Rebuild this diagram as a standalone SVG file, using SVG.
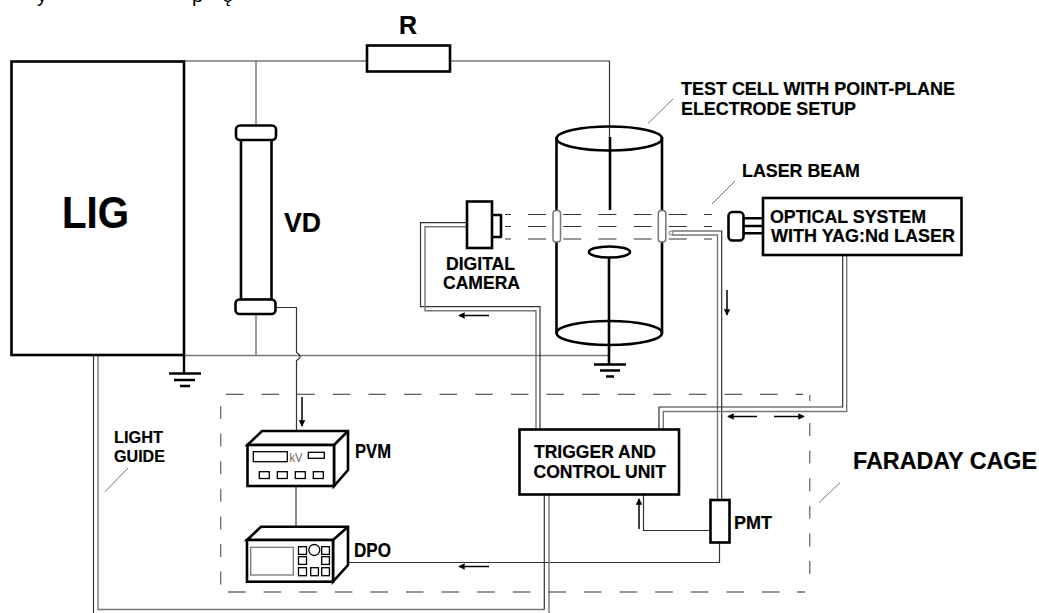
<svg xmlns="http://www.w3.org/2000/svg" width="1039" height="613" viewBox="0 0 1039 613">
<style>
text{font-family:"Liberation Sans",Arial,sans-serif;font-weight:bold;fill:#000;stroke:#000;stroke-width:.2}
.b{fill:#fff;stroke:#000;stroke-width:2.6}
.t{fill:#fff;stroke:#000;stroke-width:1.3}
.n{fill:none;stroke:#000;stroke-width:2.6;stroke-linejoin:round}
.w{fill:none;stroke:#333;stroke-width:1.2}
.g{fill:none;stroke:#777;stroke-width:1.4}
.p{fill:none;stroke:#777;stroke-width:1}
.d{fill:none;stroke:#333;stroke-width:1.1}
.a{fill:none;stroke:#000;stroke-width:1.5;marker-end:url(#ah)}
.r{stroke:#000;stroke-width:2.4;fill:none}
.f{font-weight:normal;stroke:none}
</style>
<defs>
<marker id="ah" viewBox="0 0 8 8" refX="7" refY="4" markerWidth="6.500" markerHeight="6.500" markerUnits="userSpaceOnUse" orient="auto"><path d="M0 0L8 4L0 8Z" fill="#000"/></marker>
</defs>
<g id="connectors">
<path class="w" d="M184 61H367M450 61H609.500V138"/>
<path class="g" d="M256 61V125M256 314V355"/>
<path class="g" d="M184 355.500H609"/>
<path class="w" d="M276 307.500H296.500V352.500Q303.500 356.500 296.500 360.500V430"/>
<path class="w" d="M296 486V526"/>
<path class="w" d="M349 562.500H719.500V543"/>
<path class="w" d="M710 530.500H643.500V495"/>
<path class="w" d="M467 222.700H420.500V306.700H540V429"/>
<path class="g" d="M467 226.700H425V310.700H536V429"/>
<path class="w" d="M672 231H721.700V500"/>
<path class="g" d="M672 235H717.500V500"/>
<circle class="p" cx="671" cy="233" r="2"/>
<path class="w" d="M659 429V407H842.700V255"/>
<path class="g" d="M663.300 429V411.500H846.700V255"/>
<path class="w" d="M93.500 355V613"/>
<path class="g" d="M98 355V609.500H544.300"/>
<path class="w" d="M544.300 609.500V495"/>
<path class="g" d="M549 495V613"/>
<path class="a" d="M489 315.500H459"/>
<path class="a" d="M727 290V315"/>
<path class="a" d="M757 416.500H728"/>
<path class="a" d="M774 416.500H804"/>
<path class="a" d="M302 397V426"/>
<path class="a" d="M639 529V499"/>
<path class="a" d="M489 566.500H459"/>
<path class="p" d="M128 468L105 491.700M840 482.700L819 502.700M735 181L712 204M673 99L648 123.500"/>
</g>
<g id="faraday-cage">
<path class="d" stroke-dasharray="17.600 18" d="M226 394.300H796"/>
<path class="d" d="M796 394.300H803"/>
<path class="d" stroke-dasharray="17.600 18" d="M228 592H797"/>
<path class="d" d="M797 592H805"/>
<path class="g" stroke-dasharray="13 14.600" d="M220.700 406V585"/>
<path class="g" stroke-dasharray="13 14.600" d="M809.700 423V574"/>
<path class="g" d="M809.700 395V401"/>
</g>
<g id="laser-beam">
<path class="d" stroke-dasharray="18 17.200" d="M528 214.500H712"/>
<path class="d" stroke-dasharray="18 17.200" d="M528 226.500H712"/>
<path class="d" stroke-dasharray="18 17.200" d="M528 239H712"/>
<path class="d" d="M505 214.500H511M505 226.500H511M505 239H511"/>
</g>
<g id="lig"><rect class="b" x="11.500" y="61.500" width="172.500" height="293.500"/>
<text x="62" y="228" font-size="44" textLength="67" lengthAdjust="spacingAndGlyphs">LIG</text></g>
<g id="ground-lig"><path class="r" d="M184 355V373"/><path class="r" d="M169 373.500H201M174 380H195M180 386H190"/></g>
<g id="resistor"><rect class="b" x="367" y="45.500" width="83" height="26"/>
<text x="399" y="34" font-size="26" textLength="18" lengthAdjust="spacingAndGlyphs">R</text></g>
<g id="vd">
<rect class="b" x="241" y="139" width="30.500" height="161"/>
<rect class="b" x="236" y="125.500" width="40" height="14.500" rx="4"/>
<rect class="b" x="235.500" y="299.500" width="40" height="14.500" rx="4"/>
<text x="284" y="232" font-size="27" textLength="37" lengthAdjust="spacingAndGlyphs">VD</text></g>
<g id="test-cell">
<path class="n" d="M556.500 137V333M662 137V333"/>
<ellipse class="n" cx="609.300" cy="138.500" rx="52.700" ry="12"/>
<path class="n" d="M556.500 333A52.700 12 0 0 0 662 333"/>
<path class="n" d="M556.500 333A52.700 12 0 0 1 662 333"/>
<path class="n" d="M610 137V210"/>
<path class="n" d="M609 258V365"/>
<ellipse class="n" cx="609.500" cy="252" rx="20.500" ry="5.500" stroke-width="2"/>
<rect x="553" y="210.500" width="7.500" height="31.500" rx="3" fill="#fff" stroke="#777" stroke-width="1.500"/>
<rect x="658.300" y="210.500" width="7.500" height="31.500" rx="3" fill="#fff" stroke="#777" stroke-width="1.500"/>
<text x="681" y="95" font-size="17.500" textLength="274" lengthAdjust="spacingAndGlyphs">TEST CELL WITH POINT-PLANE</text>
<text x="681" y="115" font-size="17.500" textLength="175" lengthAdjust="spacingAndGlyphs">ELECTRODE SETUP</text>
</g>
<g id="ground-cell"><path class="r" d="M594 364.500H626M600 370.500H620M606 376.500H614"/></g>
<g id="camera">
<rect class="b" x="467" y="201.500" width="25" height="46.500"/>
<path class="n" d="M492 215H501V237H492"/>
<text x="446" y="270" font-size="18" textLength="69" lengthAdjust="spacingAndGlyphs">DIGITAL</text>
<text x="443" y="289" font-size="18" textLength="77" lengthAdjust="spacingAndGlyphs">CAMERA</text>
</g>
<g id="laser-label"><text x="742" y="176.700" font-size="18" textLength="118" lengthAdjust="spacingAndGlyphs">LASER BEAM</text></g>
<g id="optical-system">
<path class="n" d="M743 218.300H763M743 226H763M743 233.300H763" stroke-width="2"/>
<rect class="b" x="728.500" y="212" width="15" height="28.500" rx="4"/>
<rect class="b" x="763" y="198" width="198.500" height="57"/>
<text x="770" y="223" font-size="19" textLength="156" lengthAdjust="spacingAndGlyphs">OPTICAL SYSTEM</text>
<text x="771" y="241.700" font-size="19" textLength="184" lengthAdjust="spacingAndGlyphs">WITH YAG:Nd LASER</text>
</g>
<g id="pvm">
<path class="b" d="M247.500 445L262 431H348V470L334 486V445H247.500Z"/>
<path class="n" d="M334 445L348 431"/>
<rect class="b" x="247.500" y="445" width="86.500" height="41"/>
<rect class="t" x="253.300" y="451.700" width="34" height="10"/>
<rect class="t" x="308.300" y="452.300" width="16" height="6"/>
<rect class="t" x="259.300" y="471.700" width="10" height="6.800"/>
<rect class="t" x="277.300" y="471.700" width="10" height="6.800"/>
<rect class="t" x="295.300" y="471.700" width="10" height="6.800"/>
<rect class="t" x="313.300" y="471.700" width="10" height="6.800"/>
<text class="f" x="289.500" y="462" font-size="13" style="fill:#7a6650" textLength="13" lengthAdjust="spacingAndGlyphs">kV</text>
<text x="355" y="458" font-size="20" textLength="36" lengthAdjust="spacingAndGlyphs">PVM</text>
</g>
<g id="dpo">
<path class="b" d="M247 540L261 526.700H348V565L333 581.700V540H247Z"/>
<path class="n" d="M333 540L348 526.700"/>
<rect class="b" x="247" y="540" width="86" height="41.700"/>
<rect x="250.700" y="547.300" width="42.600" height="27.700" fill="#fff" stroke="#777" stroke-width="1.300"/>
<rect class="t" x="298.500" y="546.700" width="8" height="7.700"/>
<rect class="t" x="321.700" y="546.700" width="7.700" height="7.700"/>
<rect class="t" x="298.500" y="556.700" width="8" height="7.700"/>
<rect class="t" x="321.700" y="556.700" width="7.700" height="7.700"/>
<rect class="t" x="298.500" y="567.700" width="8" height="8"/>
<rect class="t" x="310.700" y="567.700" width="7.700" height="8"/>
<rect class="t" x="321.700" y="567.700" width="7.700" height="8"/>
<circle class="t" cx="314.300" cy="550" r="5.500"/>
<text x="354" y="556.700" font-size="20" textLength="37" lengthAdjust="spacingAndGlyphs">DPO</text>
</g>
<g id="trigger">
<rect class="b" x="519.500" y="429.500" width="159.500" height="65"/>
<text x="534" y="457.700" font-size="19" textLength="122" lengthAdjust="spacingAndGlyphs">TRIGGER AND</text>
<text x="533.500" y="477.700" font-size="19" textLength="132.500" lengthAdjust="spacingAndGlyphs">CONTROL UNIT</text>
</g>
<g id="pmt">
<rect class="b" x="710.500" y="500" width="19" height="42.500"/>
<text x="734" y="529" font-size="18" textLength="38" lengthAdjust="spacingAndGlyphs">PMT</text>
</g>
<g id="labels">
<text x="114" y="443" font-size="16.500" textLength="49" lengthAdjust="spacingAndGlyphs">LIGHT</text>
<text x="114" y="461.700" font-size="16.500" textLength="51" lengthAdjust="spacingAndGlyphs">GUIDE</text>
<text x="853" y="469" font-size="23" textLength="184" lengthAdjust="spacingAndGlyphs">FARADAY CAGE</text>
<text class="f" x="37" y="1.500" font-size="20">y</text>
<text class="f" x="192" y="1.500" font-size="20">p</text>
<text class="f" x="222" y="1.500" font-size="20">ę</text>
</g>
</svg>
